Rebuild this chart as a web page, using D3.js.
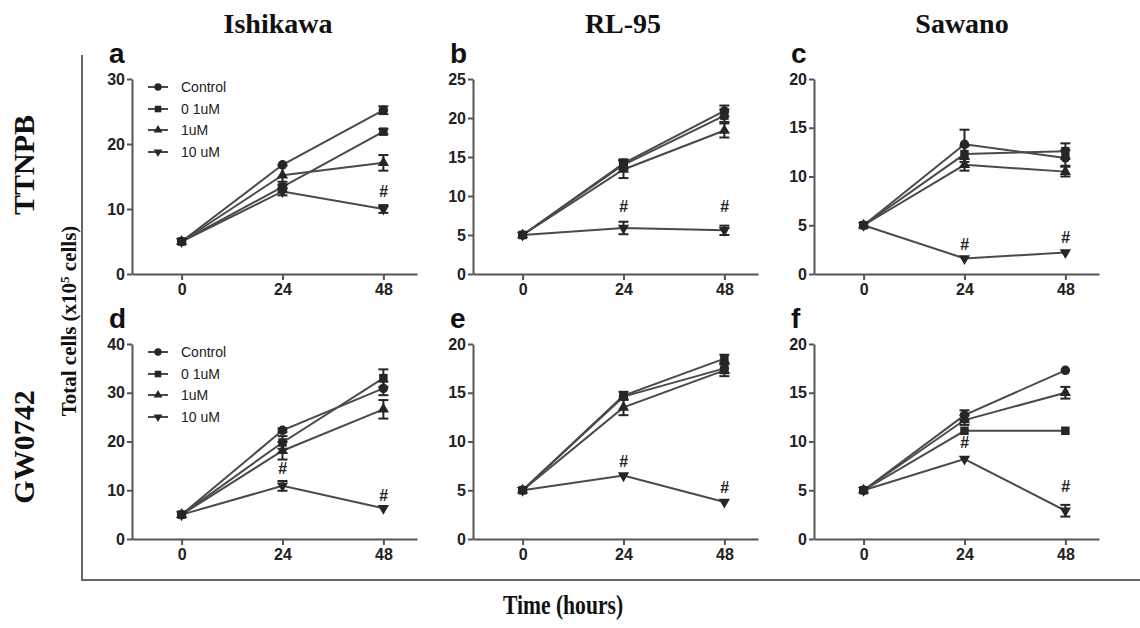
<!DOCTYPE html>
<html><head><meta charset="utf-8">
<script src="https://cdn.jsdelivr.net/npm/d3@7"></script>
<style>
body{margin:0;background:#fff;}
svg{display:block;}
</style>
</head><body>
<svg id="chart" width="1140" height="628"></svg>
<script>
// ---------- data ----------
const times = [0, 24, 48];
const seriesNames = ["Control", "0 1uM", "1uM", "10 uM"];
const columnTitles = ["Ishikawa", "RL-95", "Sawano"];
const rowTitles = ["TTNPB", "GW0742"];
const panelLetters = ["a", "b", "c", "d", "e", "f"];
const yMaxes = [30, 25, 20, 40, 20, 20];
const yTickSteps = [10, 5, 5, 10, 5, 5];
const xTickValues = [0, 24, 48];

// values per panel: [Control, 0 1uM, 1uM, 10 uM]
const panelA = [[5, 16.8, 25.2], [5, 13.4, 21.9], [5, 15.2, 17.1], [5, 12.7, 10.0]];
const panelB = [[5, 14.2, 20.9], [5, 14.0, 20.3], [5, 13.4, 18.4], [5, 5.9, 5.6]];
const panelC = [[5, 13.3, 11.9], [5, 12.3, 12.6], [5, 11.2, 10.5], [5, 1.6, 2.2]];
const panelD = [[5, 22.3, 30.9], [5, 19.8, 33.0], [5, 18.1, 26.6], [5, 10.9, 6.3]];
const panelE = [[5, 14.6, 17.5], [5, 14.7, 18.5], [5, 13.5, 17.3], [5, 6.5, 3.8]];
const panelF = [[5, 12.7, 17.3], [5, 11.1, 11.1], [5, 12.2, 15.0], [5, 8.2, 2.9]];

const errA = [[0.2, 0.3, 0.6], [0.2, 0.8, 0.4], [0.2, 1.5, 1.2], [0.2, 0.6, 0.6]];
const errB = [[0.2, 0.5, 0.7], [0.2, 0.6, 0.8], [0.2, 1.1, 0.9], [0.2, 0.8, 0.6]];
const errC = [[0.2, 1.5, 0.8], [0.2, 0.8, 0.8], [0.2, 0.6, 0.5], [0.2, 0.2, 0.2]];
const errD = [[0.2, 0.4, 1.4], [0.2, 1.3, 1.8], [0.2, 1.8, 1.9], [0.2, 1.0, 0.3]];
const errE = [[0.2, 0.3, 0.5], [0.2, 0.4, 0.4], [0.2, 0.8, 0.6], [0.2, 0.2, 0.2]];
const errF = [[0.2, 0.5, 0.2], [0.2, 0.3, 0.2], [0.2, 0.5, 0.6], [0.2, 0.2, 0.6]];

// significance "#" marks: [time, value]
const sigA = [[48, 12.7]];
const sigB = [[24, 8.7], [48, 8.7]];
const sigC = [[24, 3.0], [48, 3.8]];
const sigD = [[24, 14.4], [48, 8.9]];
const sigE = [[24, 8.0], [48, 5.3]];
const sigF = [[24, 9.9], [48, 5.4]];

const panelValues = [panelA, panelB, panelC, panelD, panelE, panelF];
const panelErrors = [errA, errB, errC, errD, errE, errF];
const panelSigs = [sigA, sigB, sigC, sigD, sigE, sigF];

// ---------- layout ----------
const svg = d3.select("#chart");
const colX = [132, 473, 814];
const rowY = [79, 344];
const pw = 285, ph = 195;
const xDomain = [-11.8, 56];
const sans = "'Liberation Sans', Arial, sans-serif";
const serif = "'Liberation Serif', 'Times New Roman', serif";
const lineColor = "#4a4a4a";
const markColor = "#262626";
const axisColor = "#555";

const symbolTypes = [d3.symbolCircle, d3.symbolSquare, d3.symbolTriangle, d3.symbolTriangle];
const symbolSizes = [70, 72, 55, 55];
const symbolRot = [0, 0, 0, 180];

// outer frame
svg.append("line").attr("x1", 82).attr("x2", 82).attr("y1", 55).attr("y2", 580)
  .attr("stroke", "#666").attr("stroke-width", 2);
svg.append("line").attr("x1", 81).attr("x2", 1140).attr("y1", 580).attr("y2", 580)
  .attr("stroke", "#666").attr("stroke-width", 2);

// column titles
const colTitleX = [278, 623, 962];
columnTitles.forEach((t, i) => {
  svg.append("text").attr("x", colTitleX[i]).attr("y", 33).attr("text-anchor", "middle")
    .attr("font-family", serif).attr("font-weight", "bold").attr("font-size", 28)
    .attr("fill", "#111").text(t);
});
// row titles
const rowTitleY = [165, 447];
rowTitles.forEach((t, i) => {
  svg.append("text").attr("transform", `translate(34,${rowTitleY[i]}) rotate(-90)`)
    .attr("text-anchor", "middle").attr("font-family", serif).attr("font-weight", "bold")
    .attr("font-size", 30).attr("fill", "#111").text(t);
});
// y axis title
const yt = svg.append("text").attr("transform", "translate(76,321) rotate(-90)")
  .attr("text-anchor", "middle").attr("font-family", serif).attr("font-weight", "bold")
  .attr("font-size", 21).attr("fill", "#111");
yt.append("tspan").text("Total cells (x10");
yt.append("tspan").attr("baseline-shift", "super").attr("font-size", 13).text("5");
yt.append("tspan").text(" cells)");
// x axis title
svg.append("text").attr("transform", "translate(563,614) scale(0.8,1)").attr("text-anchor", "middle")
  .attr("font-family", serif).attr("font-weight", "bold").attr("font-size", 27)
  .attr("fill", "#111").text("Time (hours)");

// ---------- panels ----------
panelValues.forEach((vals, p) => {
  const col = p % 3, row = Math.floor(p / 3);
  const g = svg.append("g").attr("transform", `translate(${colX[col]},${rowY[row]})`);
  const x = d3.scaleLinear().domain(xDomain).range([0, pw]);
  const y = d3.scaleLinear().domain([0, yMaxes[p]]).range([ph, 0]);

  // panel letter
  g.append("text").attr("x", -23).attr("y", -16).attr("font-family", sans)
    .attr("font-weight", "bold").attr("font-size", 28).attr("fill", "#111")
    .text(panelLetters[p]);

  // axes
  const yAxis = d3.axisLeft(y).tickValues(d3.range(0, yMaxes[p] + 0.001, yTickSteps[p]))
    .tickSize(5).tickPadding(2).tickSizeOuter(0);
  const ya = g.append("g").call(yAxis);
  const xAxis = d3.axisBottom(x).tickValues(xTickValues).tickSize(6).tickPadding(4).tickSizeOuter(0);
  const xa = g.append("g").attr("transform", `translate(0,${ph})`).call(xAxis);
  [ya, xa].forEach(a => {
    a.select(".domain").attr("stroke", axisColor).attr("stroke-width", 2);
    a.selectAll(".tick line").attr("stroke", axisColor).attr("stroke-width", 2);
    a.selectAll(".tick text").attr("font-family", sans).attr("font-weight", "bold")
      .attr("font-size", 16).attr("fill", "#222");
  });

  const line = d3.line().x((d, i) => x(times[i])).y(d => y(d));
  // lines
  vals.forEach((s, si) => {
    g.append("path").datum(s).attr("d", line).attr("fill", "none")
      .attr("stroke", lineColor).attr("stroke-width", 2);
  });
  // error bars
  vals.forEach((s, si) => {
    s.forEach((v, ti) => {
      const e = panelErrors[p][si][ti];
      if (e < 0.35) return;
      const cx = x(times[ti]);
      const eg = g.append("g").attr("stroke", markColor).attr("stroke-width", 2);
      eg.append("line").attr("x1", cx).attr("x2", cx).attr("y1", y(v - e)).attr("y2", y(v + e));
      eg.append("line").attr("x1", cx - 5).attr("x2", cx + 5).attr("y1", y(v - e)).attr("y2", y(v - e));
      eg.append("line").attr("x1", cx - 5).attr("x2", cx + 5).attr("y1", y(v + e)).attr("y2", y(v + e));
    });
  });
  // markers
  vals.forEach((s, si) => {
    const sym = d3.symbol().type(symbolTypes[si]).size(symbolSizes[si]);
    s.forEach((v, ti) => {
      g.append("path").attr("d", sym())
        .attr("transform", `translate(${x(times[ti])},${y(v)}) rotate(${symbolRot[si]})`)
        .attr("fill", markColor);
    });
  });
  // significance marks
  panelSigs[p].forEach(d => {
    g.append("text").attr("x", x(d[0])).attr("y", y(d[1])).attr("dy", "0.35em")
      .attr("text-anchor", "middle").attr("font-family", sans).attr("font-weight", "bold")
      .attr("font-style", "italic").attr("font-size", 16).attr("fill", "#222").text("#");
  });

  // legend on first column
  if (col === 0) {
    const ly = [8, 30, 51, 73];
    seriesNames.forEach((n, si) => {
      const lg = g.append("g").attr("transform", `translate(0,${ly[si]})`);
      lg.append("line").attr("x1", 16).attr("x2", 36).attr("stroke", lineColor).attr("stroke-width", 2);
      lg.append("path").attr("d", d3.symbol().type(symbolTypes[si]).size(symbolSizes[si] * 0.6)())
        .attr("transform", `translate(26,0) rotate(${symbolRot[si]})`).attr("fill", markColor);
      lg.append("text").attr("x", 49).attr("y", 0).attr("dy", "0.35em")
        .attr("font-family", sans).attr("font-size", 14).attr("fill", "#222").text(n);
    });
  }
});
</script>
</body></html>
